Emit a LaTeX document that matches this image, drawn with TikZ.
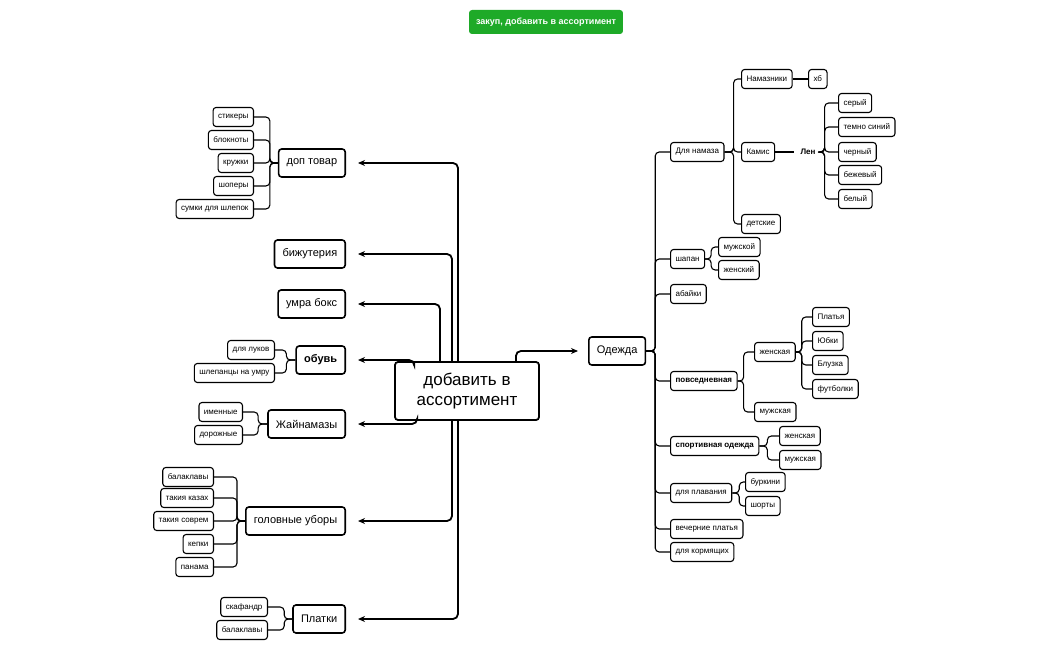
\documentclass[tikz,border=0pt]{standalone}
\usepackage{fontspec}
\setmainfont{Liberation Sans}
\usetikzlibrary{arrows.meta}
\tikzset{
  box/.style={draw, line width=1.1pt, rounded corners=3pt, fill=white, inner sep=0pt, minimum height=19pt, inner xsep=5pt, font=\fontsize{8}{9}\selectfont},
  main/.style={box, line width=1.6pt, minimum height=28pt, inner xsep=8pt, font=\fontsize{11}{12}\selectfont},
  link/.style={line width=1.1pt, rounded corners=4pt},
  arr/.style={line width=1.8pt, rounded corners=5pt, -{Stealth[length=7pt,width=6pt]}},
}
\begin{document}
\begin{tikzpicture}[x=1pt,y=-1pt]
\useasboundingbox (0,0) rectangle (1050,650);
% top label
\node[fill={rgb,255:red,30;green,170;blue,40}, text=white, rounded corners=3pt, minimum height=24pt, inner xsep=7pt, font=\bfseries\fontsize{9}{10}\selectfont] (zakup) at (546,22) {закуп, добавить в ассортимент};
% root
\node[main, line width=1.8pt, minimum width=144pt, minimum height=58pt, align=center, font=\fontsize{17}{20}\selectfont] (root) at (467,391) {добавить в\\ассортимент};
% left main nodes
\node[main, anchor=east] (dop) at (346,163) {доп товар};
\node[main, anchor=east] (bizh) at (346,254) {бижутерия};
\node[main, anchor=east] (umra) at (346,304) {умра бокс};
\node[main, anchor=east, font=\bfseries\fontsize{11}{12}\selectfont] (obuv) at (346,360) {обувь};
\node[main, anchor=east] (zhay) at (346,424) {Жайнамазы};
\node[main, anchor=east] (golov) at (346,521) {головные уборы};
\node[main, anchor=east] (platki) at (346,619) {Платки};
% arrows from root
\draw[arr] ([xshift=-9pt]root.north) |- ([xshift=12pt]dop.east);
\draw[arr] ([xshift=-15pt]root.north) |- ([xshift=12pt]bizh.east);
\draw[arr] ([xshift=-27pt]root.north) |- ([xshift=12pt]umra.east);
\draw[arr] ([xshift=20pt]root.north west) |- ([xshift=12pt]obuv.east);
\draw[arr] ([xshift=23pt]root.south west) |- ([xshift=12pt]zhay.east);
\draw[arr] ([xshift=-15pt]root.south) |- ([xshift=12pt]golov.east);
\draw[arr] ([xshift=-9pt]root.south) |- ([xshift=12pt]platki.east);
% left leaves
\node[box, anchor=east] (stik) at (254,117) {стикеры};
\node[box, anchor=east] (blok) at (254,140) {блокноты};
\node[box, anchor=east] (kruzh) at (254,163) {кружки};
\node[box, anchor=east] (shop) at (254,186) {шоперы};
\node[box, anchor=east] (sumki) at (254,209) {сумки для шлепок};
\foreach \l in {stik,blok,kruzh,shop,sumki}
  \draw[link] (dop.west) -- ++(-8,0) |- (\l.east);
\node[box, anchor=east] (luk) at (275,350) {для луков};
\node[box, anchor=east] (shlep) at (275,373) {шлепанцы на умру};
\foreach \l in {luk,shlep}
  \draw[link] (obuv.west) -- ++(-9,0) |- (\l.east);
\node[box, anchor=east] (imen) at (243,412) {именные};
\node[box, anchor=east] (dorozh) at (243,435) {дорожные};
\foreach \l in {imen,dorozh}
  \draw[link] (zhay.west) -- ++(-9,0) |- (\l.east);
\node[box, anchor=east] (bal) at (214,477) {балаклавы};
\node[box, anchor=east] (takk) at (214,498) {такия казах};
\node[box, anchor=east] (taks) at (214,521) {такия соврем};
\node[box, anchor=east] (kepki) at (214,544) {кепки};
\node[box, anchor=east] (panama) at (214,567) {панама};
\foreach \l in {bal,takk,taks,kepki,panama}
  \draw[link] (golov.west) -- ++(-8,0) |- (\l.east);
\node[box, anchor=east] (skaf) at (268,607) {скафандр};
\node[box, anchor=east] (balp) at (268,630) {балаклавы};
\foreach \l in {skaf,balp}
  \draw[link] (platki.west) -- ++(-8,0) |- (\l.east);
% right side
\node[main, anchor=west] (odezhda) at (588,351) {Одежда};
\draw[arr] ([xshift=-24pt]root.north east) |- ([xshift=-10pt]odezhda.west);
\node[box, anchor=west] (namaz) at (670,152) {Для намаза};
\node[box, anchor=west] (shapan) at (670,259) {шапан};
\node[box, anchor=west] (abay) at (670,294) {абайки};
\node[box, anchor=west, font=\bfseries\fontsize{8}{9}\selectfont] (povs) at (670,381) {повседневная};
\node[box, anchor=west, font=\bfseries\fontsize{8}{9}\selectfont] (sport) at (670,446) {спортивная одежда};
\node[box, anchor=west] (plav) at (670,493) {для плавания};
\node[box, anchor=west] (vech) at (670,529) {вечерние платья};
\node[box, anchor=west] (korm) at (670,552) {для кормящих};
\foreach \l in {namaz,shapan,abay,povs,sport,plav,vech,korm}
  \draw[link] (odezhda.east) -- ++(9,0) |- (\l.west);
\node[box, anchor=west] (namazn) at (741,79) {Намазники};
\node[box, anchor=west] (hb) at (808,79) {хб};
\node[box, anchor=west] (kamis) at (741,152) {Камис};
\node[box, anchor=west] (det) at (741,224) {детские};
\foreach \l in {namazn,kamis,det}
  \draw[link] (namaz.east) -- ++(9,0) |- (\l.west);
\draw[link] (namazn) -- (hb);
\node[font=\bfseries\fontsize{8}{9}\selectfont, inner sep=6pt] (len) at (808,152) {Лен};
\draw[link] (kamis) -- (len);
\node[box, anchor=west] (sery) at (838,103) {серый};
\node[box, anchor=west] (temno) at (838,127) {темно синий};
\node[box, anchor=west] (cherny) at (838,152) {черный};
\node[box, anchor=west] (bezh) at (838,175) {бежевый};
\node[box, anchor=west] (bely) at (838,199) {белый};
\foreach \l in {sery,temno,cherny,bezh,bely}
  \draw[link] (len.east) -- ++(3,0) |- (\l.west);
\node[box, anchor=west] (muzh) at (718,247) {мужской};
\node[box, anchor=west] (zhen) at (718,270) {женский};
\foreach \l in {muzh,zhen}
  \draw[link] (shapan.east) -- ++(6,0) |- (\l.west);
\node[box, anchor=west] (pzhen) at (754,352) {женская};
\node[box, anchor=west] (pmuzh) at (754,412) {мужская};
\foreach \l in {pzhen,pmuzh}
  \draw[link] (povs.east) -- ++(6,0) |- (\l.west);
\node[box, anchor=west] (platya) at (812,317) {Платья};
\node[box, anchor=west] (yubki) at (812,341) {Юбки};
\node[box, anchor=west] (bluz) at (812,365) {Блузка};
\node[box, anchor=west] (futb) at (812,389) {футболки};
\foreach \l in {platya,yubki,bluz,futb}
  \draw[link] (pzhen.east) -- ++(6,0) |- (\l.west);
\node[box, anchor=west] (szhen) at (779,436) {женская};
\node[box, anchor=west] (smuzh) at (779,460) {мужская};
\foreach \l in {szhen,smuzh}
  \draw[link] (sport.east) -- ++(8,0) |- (\l.west);
\node[box, anchor=west] (burk) at (745,482) {буркини};
\node[box, anchor=west] (shorty) at (745,506) {шорты};
\foreach \l in {burk,shorty}
  \draw[link] (plav.east) -- ++(7,0) |- (\l.west);
\end{tikzpicture}
\end{document}
